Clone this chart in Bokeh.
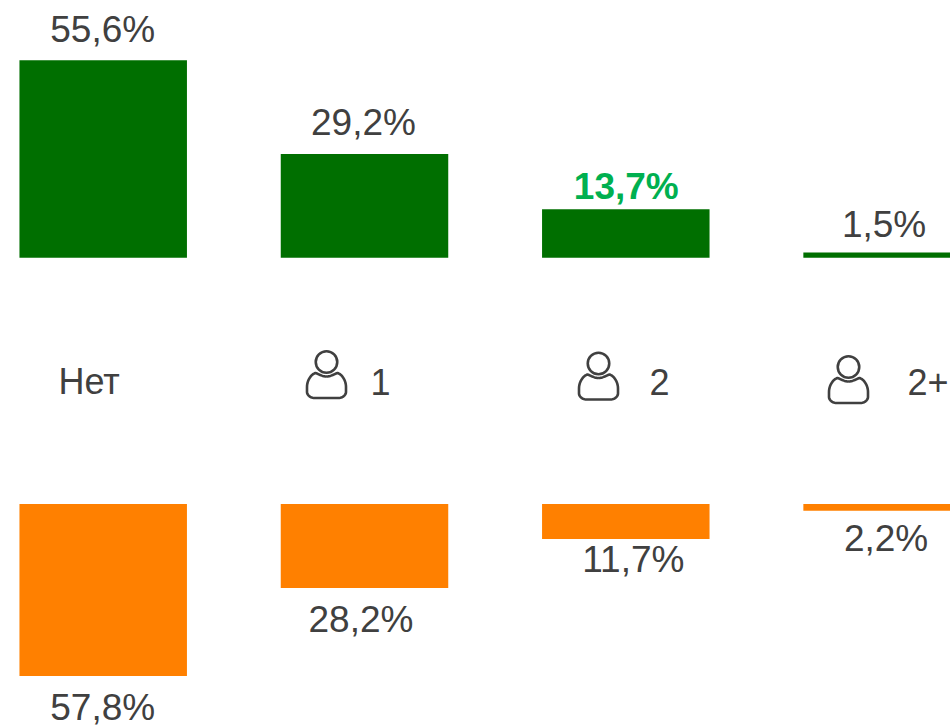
import numpy as np
from bokeh.plotting import figure, ColumnDataSource
from bokeh.models import Range1d
from bokeh.core.properties import value
from bokeh.embed import file_html
from bokeh.resources import INLINE

categories = ["Нет", "1", "2", "2+"]
top_values = [55.6, 29.2, 13.7, 1.5]
top_labels = ["55,6%", "29,2%", "13,7%", "1,5%"]
bottom_values = [57.8, 28.2, 11.7, 2.2]
bottom_labels = ["57,8%", "28,2%", "11,7%", "2,2%"]

GREEN = "#006F00"
ORANGE = "#FF8000"
GREY = "#404040"
HILITE = "#00B050"
FONT = value("Liberation Sans")
FS = "37px"

W, H = 950, 725
PX_L, PX_R, PX_T, PX_B = 0, 950, 0, 725

# scales: page pixel = origin + scale * data
X0, XS = 102.7, 261.3
T0, TS = 257.3, 3.552
B0, BS = 503.6, 2.976
BASE = -14.0  # baseline correction of the text glyph

p = figure(width=W, height=H, output_backend="svg", toolbar_location=None,
           min_border=0, outline_line_color=None,
           x_range=Range1d((PX_L - X0) / XS, (PX_R - X0) / XS),
           y_range=Range1d((T0 - PX_B) / TS, (T0 - PX_T) / TS))
p.xaxis.visible = False
p.yaxis.visible = False
p.grid.visible = False
p.background_fill_color = "white"
p.border_fill_color = "white"
p.extra_y_ranges = {"low": Range1d((PX_B - B0) / BS, (PX_T - B0) / BS),
                    "pxy": Range1d(PX_B, PX_T)}
p.extra_x_ranges = {"pxx": Range1d(PX_L, PX_R)}

idx = list(range(len(categories)))
BW = 0.641

p.vbar(x=idx, bottom=0, top=top_values, width=BW, fill_color=GREEN, line_color=None)
p.vbar(x=idx, bottom=0, top=bottom_values, width=BW, fill_color=ORANGE, line_color=None,
       y_range_name="low")

# value labels, offset in pixels from the bar end
top_dy = [-17, -18, -9, -14]
top_src = ColumnDataSource(dict(
    x=idx, y=top_values, t=top_labels,
    dx=[-0.5, -1, 0.5, -3], dy=[d + BASE for d in top_dy],
    c=[GREY, GREY, HILITE, GREY], s=["normal", "normal", "bold", "normal"]))
p.text(x="x", y="y", text="t", source=top_src, x_offset="dx", y_offset="dy",
       text_color="c", text_font_style="s", text_font=FONT, text_font_size=FS,
       text_align="center", text_baseline="alphabetic")
bot_dy = [45.5, 45.5, 34.5, 42]
bot_src = ColumnDataSource(dict(
    x=idx, y=bottom_values, t=bottom_labels,
    dx=[-0.5, -3.5, 7.5, -1], dy=[d + BASE for d in bot_dy]))
p.text(x="x", y="y", text="t", source=bot_src, x_offset="dx", y_offset="dy",
       y_range_name="low", text_color=GREY, text_font=FONT, text_font_size=FS,
       text_align="center", text_baseline="alphabetic")

# category labels
cat_x = [58, 370, 649, 907]
cat_y = [395 + BASE] * 4
p.text(x=cat_x, y=cat_y, text=categories, x_range_name="pxx", y_range_name="pxy",
       text_color=GREY, text_font=FONT, text_font_size="36px",
       text_align="left", text_baseline="alphabetic")

# person icons
def bez(a, b, c, d, n=14):
    t = np.linspace(0, 1, n)[:, None]
    a, b, c, d = map(np.array, (a, b, c, d))
    return (1-t)**3*a + 3*(1-t)**2*t*b + 3*(1-t)*t**2*c + t**3*d

segs = [
    ((0, 14.5), (-4, 14.5), (-8, 12), (-11, 11)),
    ((-11, 11), (-15, 12), (-19.5, 18), (-19.5, 25)),
    ((-19.5, 25), (-19.5, 27), (-19.5, 29), (-19.5, 30)),
    ((-19.5, 30), (-19.5, 33), (-16, 36), (-12, 36)),
    ((-12, 36), (-5, 36), (5, 36), (12, 36)),
    ((12, 36), (16, 36), (19.5, 33), (19.5, 30)),
    ((19.5, 30), (19.5, 29), (19.5, 27), (19.5, 25)),
    ((19.5, 25), (19.5, 18), (15, 12), (11, 11)),
    ((11, 11), (8, 12), (4, 14.5), (0, 14.5)),
]
body = np.vstack([bez(*s) for s in segs])

icon_x = [326.0, 598.0, 848.0]
icon_y = [361.5, 363.0, 366.5]
ICON = "#404040"
for ix, iy in zip(icon_x, icon_y):
    p.scatter(x=[ix], y=[iy], size=21.5, marker="circle", fill_color=None,
              line_color=ICON, line_width=2.6, x_range_name="pxx", y_range_name="pxy")
    p.line(x=body[:, 0] + ix, y=body[:, 1] + iy, line_color=ICON, line_width=2.6,
           line_join="round", x_range_name="pxx", y_range_name="pxy")

open("out.html", "w").write(file_html(p, INLINE))
